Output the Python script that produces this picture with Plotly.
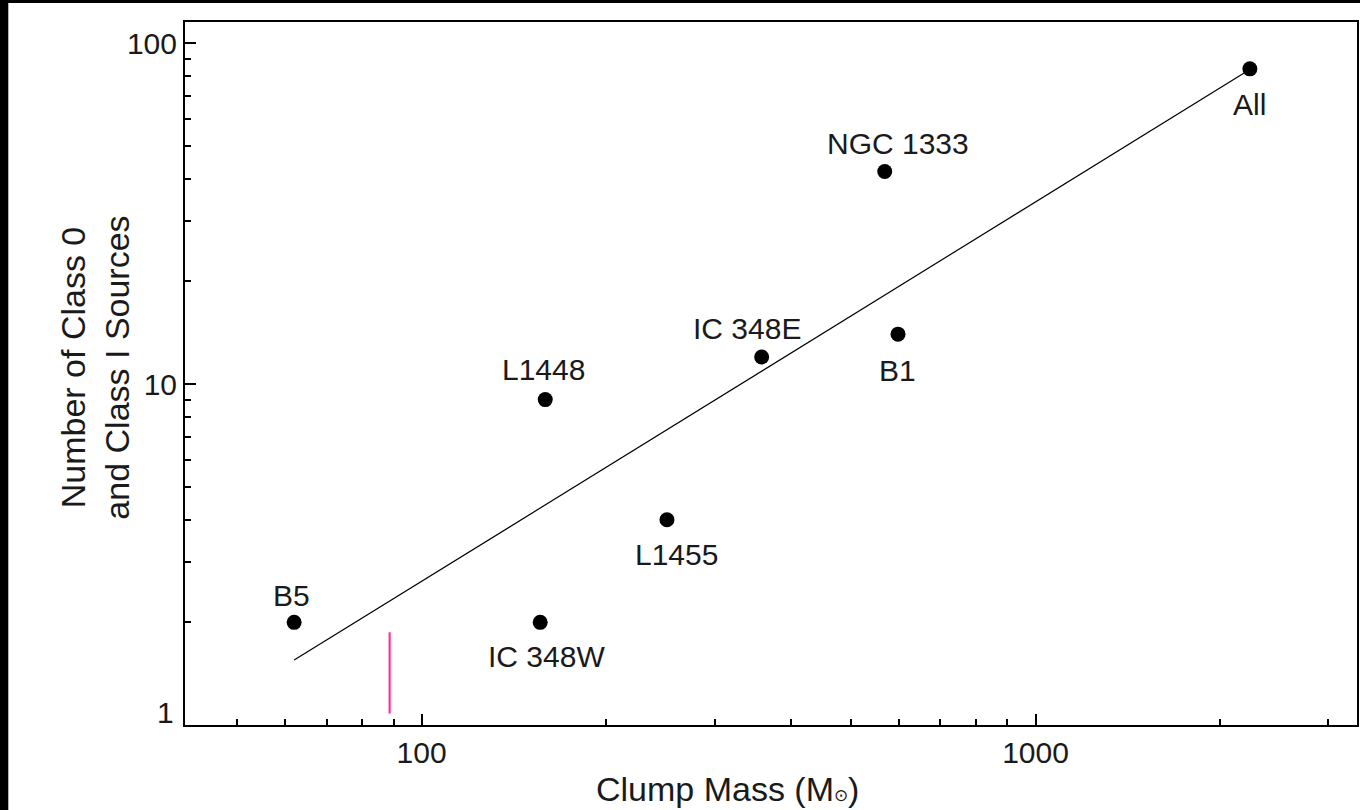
import numpy as np
import plotly.graph_objects as go

# ---- data ----
names = ["B5", "IC 348W", "L1448", "L1455", "IC 348E", "NGC 1333", "B1", "All"]
mass = [62, 156, 159, 251, 358, 568, 597, 2234]
counts = [2, 2, 9, 4, 12, 42, 14, 84]

fit_mass = [62, 2230]
fit_counts = [1.55, 83.5]

pink_mass = [88.7, 88.7]
pink_counts = [1.08, 1.87]

x_major = [100, 1000]
x_major_text = ["100", "1000"]
x_minor = [50, 60, 70, 80, 90, 200, 300, 400, 500, 600, 700, 800, 900, 2000, 3000]
y_major = [1, 10, 100]
y_major_text = ["", "10", "100"]
y_bottom_label = "1"
y_minor = [2, 3, 4, 5, 6, 7, 8, 9, 20, 30, 40, 50, 60, 70, 80, 90]

# label offsets in pixels (style)
label_shift = {
    "B5": (-3, 27),
    "IC 348W": (6, -34),
    "L1448": (-2, 30),
    "L1455": (10, -35),
    "IC 348E": (-15, 29),
    "NGC 1333": (13, 28),
    "B1": (-1, -36),
    "All": (0, -36),
}

FONT = "Liberation Sans, Arial, Helvetica, sans-serif"
TXT = "#1a1a1a"

fig = go.Figure()

fig.add_trace(go.Scatter(
    x=fit_mass, y=fit_counts, mode="lines",
    line=dict(color="black", width=1.2), hoverinfo="skip", showlegend=False))

fig.add_trace(go.Scatter(
    x=pink_mass, y=pink_counts, mode="lines",
    line=dict(color="#ff3399", width=2.2), hoverinfo="skip", showlegend=False))

fig.add_trace(go.Scatter(
    x=mass, y=counts, mode="markers",
    marker=dict(color="black", size=15, line=dict(width=0)),
    text=names, showlegend=False))

for n, m, c in zip(names, mass, counts):
    dx, dy = label_shift[n]
    fig.add_annotation(
        x=np.log10(m), y=np.log10(c), xref="x", yref="y",
        text=n, showarrow=False, xshift=dx, yshift=dy,
        xanchor="center", yanchor="middle",
        font=dict(family=FONT, size=30, color=TXT))

# bottom y tick label, lifted above the x axis as in the reference
fig.add_annotation(
    x=0, y=np.log10(y_major[0]), xref="paper", yref="y",
    text=y_bottom_label, showarrow=False, xanchor="right", yanchor="middle",
    xshift=-9, yshift=13,
    font=dict(family=FONT, size=30, color=TXT))

# axis titles
fig.add_annotation(
    x=(728 - 185) / 1174, y=(725 - 789) / 703, xref="paper", yref="paper",
    text="Clump Mass (M<span style='font-size:17px'>⊙</span>)", showarrow=False,
    xanchor="center", yanchor="middle",
    font=dict(family=FONT, size=34, color=TXT))
fig.add_annotation(
    x=(94.5 - 185) / 1174, y=(725 - 368) / 703, xref="paper", yref="paper",
    text="Number of Class 0<br>and Class I Sources", showarrow=False,
    textangle=-90, xanchor="center", yanchor="middle",
    font=dict(family=FONT, size=34, color=TXT))

# black border strips at top and left
fig.add_shape(type="rect", xref="paper", yref="paper",
              x0=-0.2, x1=1.05, y0=(725 - 3) / 703, y1=1.1,
              fillcolor="black", line=dict(width=0), layer="above")
fig.add_shape(type="rect", xref="paper", yref="paper",
              x0=-0.2, x1=(8 - 185) / 1174, y0=-0.2, y1=1.1,
              fillcolor="black", line=dict(width=0), layer="above")

axis_common = dict(
    type="log", showgrid=False, zeroline=False,
    showline=True, linecolor="black", linewidth=2, mirror=True,
    ticks="inside", ticklen=11, tickwidth=2, tickcolor="black",
    tickfont=dict(family=FONT, size=30, color=TXT),
)

fig.update_xaxes(
    **axis_common,
    range=[1.6146, 3.5236],
    tickmode="array", tickvals=x_major, ticktext=x_major_text,
    minor=dict(ticks="inside", ticklen=6, tickwidth=2, tickcolor="black",
               tickmode="array", tickvals=x_minor, showgrid=False),
)
fig.update_yaxes(
    **axis_common,
    range=[0, 2.0616],
    tickmode="array", tickvals=y_major, ticktext=y_major_text,
    minor=dict(ticks="inside", ticklen=6, tickwidth=2, tickcolor="black",
               tickmode="array", tickvals=y_minor, showgrid=False),
)

fig.update_layout(
    width=1360, height=810,
    margin=dict(l=185, r=1, t=22, b=85),
    paper_bgcolor="white", plot_bgcolor="white",
    showlegend=False,
)

fig.write_html(
    "out.html",
    config={"displayModeBar": False},
    post_script="document.body.style.margin='0';document.body.style.overflow='hidden';",
)
